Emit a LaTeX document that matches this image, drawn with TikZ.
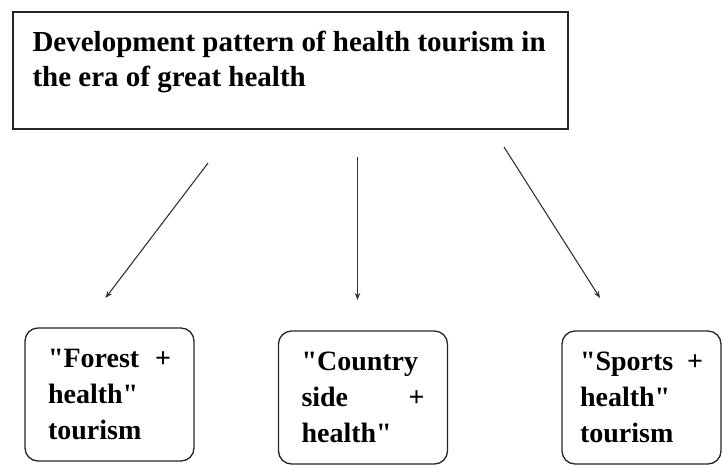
\documentclass[tikz,border=0pt]{standalone}
\usepackage{fontspec}
\setmainfont{Liberation Serif}[Ligatures=TeXOff]
\usepackage{tikz}
\usetikzlibrary{arrows.meta, positioning}
\newcommand{\qt}{\symbol{34}}

\begin{document}
\begin{tikzpicture}[x=1pt, y=-1pt,
  headbox/.style={draw=black!85, line width=1.3pt, minimum width=555pt, minimum height=117pt, inner sep=0pt},
  headtext/.style={font=\fontsize{29}{35}\selectfont\bfseries, align=left, inner sep=0pt},
  modebox/.style={draw=black!85, line width=1.3pt, rounded corners=13pt, text width=123pt, minimum height=133pt, inner xsep=23pt, align=left, font=\fontsize{28}{36}\selectfont\bfseries},
  link/.style={draw=black!80, line width=1.1pt, -{Stealth[length=7pt, width=5.5pt]}}]
  \useasboundingbox (0,0) rectangle (723,464);

  \node[headbox] (era) at (290.5,70.5) {};
  \node[headtext, anchor=north west] (eratext) at ([xshift=20pt, yshift=-20pt]era.north west) {Development pattern of health tourism in\\ the era of great health};

  \node[modebox] (forest) at (109.5,394.5) {\qt Forest \hfill +\\ health\qt\\ tourism};
  \node[modebox] (country) at (363,397.5) {\qt Country\\ side \hfill +\\ health\qt};
  \node[modebox, inner xsep=18pt] (sports) at (641.5,397.5) {\qt Sports \hfill +\\ health\qt\\ tourism};

  \coordinate (lstart) at (208,163);
  \coordinate (lend) at (105.5,298);
  \coordinate (mstart) at (357.5,157);
  \coordinate (mend) at (357.5,300);
  \coordinate (rstart) at (504,147);
  \coordinate (rend) at (600,298);
  \draw[link] (lstart) -- (lend);
  \draw[link] (mstart) -- (mend);
  \draw[link] (rstart) -- (rend);
\end{tikzpicture}
\end{document}
